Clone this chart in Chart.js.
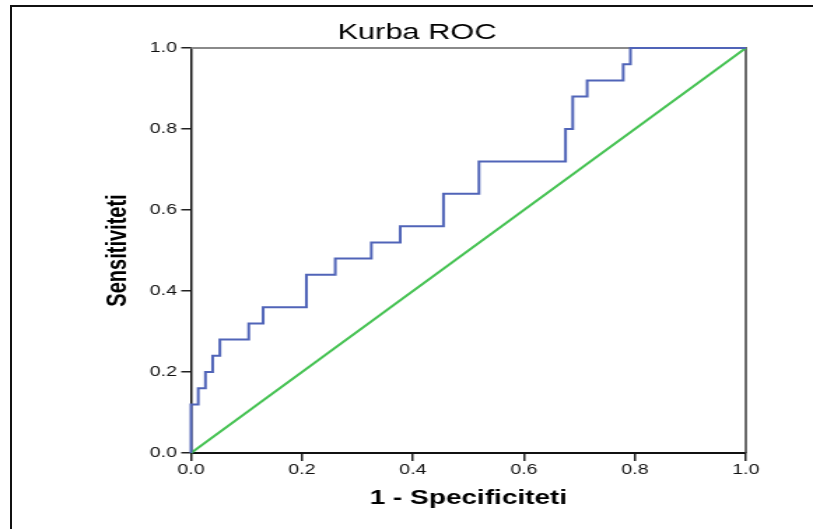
<!DOCTYPE html>
<html>
<head>
<meta charset="utf-8">
<script src="https://cdn.jsdelivr.net/npm/chart.js@4.4.1/dist/chart.umd.min.js"></script>
<style>
  html, body { margin: 0; padding: 0; background: #fff; overflow: hidden; width: 813px; height: 529px; }
  #wrap { position: absolute; left: 0; top: 0; width: 813px; height: 529px; overflow: hidden; }
  #c { position: absolute; left: 0; top: 0; transform-origin: 0 0; transform: scaleX(1.39931); }
  #frame { position: absolute; left: 10px; top: 5px; width: 900px; height: 600px;
           border-left: 2px solid #111; border-top: 2px solid #111; pointer-events: none; }
</style>
</head>
<body>
<div id="wrap">
  <canvas id="c" width="581" height="529" style="width:581px;height:529px"></canvas>
  <div id="frame"></div>
</div>
<script>
// ROC curve corner points (1 - specificity, sensitivity)
const fpr = [0, 0, 0.013, 0.026, 0.039, 0.052, 0.104, 0.130, 0.208, 0.260, 0.325, 0.377, 0.455, 0.519, 0.675, 0.688, 0.714, 0.779, 0.792, 1];
const tpr = [0, 0.12, 0.16, 0.20, 0.24, 0.28, 0.32, 0.36, 0.44, 0.48, 0.52, 0.56, 0.64, 0.72, 0.80, 0.88, 0.92, 0.96, 1.00, 1.00];
// Reference diagonal
const refX = [0, 1];
const refY = [0, 1];
const tickValues = [0, 0.2, 0.4, 0.6, 0.8, 1.0];
const chartTitle = 'Kurba ROC';
const xTitle = '1 - Specificiteti';
const yTitle = 'Sensitiviteti';

const rocData = fpr.map((x, i) => ({ x: x, y: tpr[i] }));
const refData = refX.map((x, i) => ({ x: x, y: refY[i] }));

const FONT = "'Liberation Sans', Arial, sans-serif";

const framePlugin = {
  id: 'frame',
  beforeDatasetsDraw(chart) {
    const { ctx, chartArea: a } = chart;
    ctx.save();
    ctx.strokeStyle = '#8a8a8a';
    ctx.lineWidth = 2;
    ctx.beginPath();
    ctx.moveTo(a.left, a.top);
    ctx.lineTo(a.right, a.top);
    ctx.stroke();
    ctx.strokeStyle = '#3a3a3a';
    ctx.lineWidth = 1.5;
    ctx.beginPath();
    ctx.moveTo(a.right, a.top - 1);
    ctx.lineTo(a.right, a.bottom);
    ctx.stroke();
    ctx.restore();
  },
  afterDraw(chart) {
    const { ctx } = chart;
    ctx.save();
    ctx.fillStyle = '#000';
    ctx.font = "22px " + FONT;
    ctx.textAlign = 'center';
    ctx.textBaseline = 'middle';
    ctx.fillText(chartTitle, 298, 33);
    ctx.restore();
  }
};

new Chart(document.getElementById('c'), {
  type: 'line',
  data: {
    datasets: [
      {
        data: refData,
        borderColor: '#45c252',
        borderWidth: 2,
        pointRadius: 0,
        fill: false,
        clip: false,
        order: 2
      },
      {
        data: rocData,
        borderColor: '#5064b8',
        borderWidth: 2,
        pointRadius: 0,
        stepped: true,
        fill: false,
        clip: false,
        order: 1
      }
    ]
  },
  options: {
    responsive: false,
    animation: false,
    devicePixelRatio: 1,
    layout: { padding: { top: 48, left: 0, right: 48, bottom: 0 } },
    plugins: { legend: { display: false }, tooltip: { enabled: false }, title: { display: false } },
    scales: {
      x: {
        type: 'linear',
        min: 0, max: 1,
        afterBuildTicks: (s) => { s.ticks = tickValues.map(v => ({ value: v })); },
        afterFit: (s) => { s.height = 76; },
        ticks: {
          font: { family: FONT, size: 14 },
          color: '#111',
          padding: 1,
          maxRotation: 0,
          callback: (v) => v.toFixed(1)
        },
        grid: { drawOnChartArea: false, drawTicks: true, tickLength: 8, color: '#222', lineWidth: 1.5 },
        border: { display: true, color: '#111', width: 2 },
        title: {
          display: true, text: xTitle, color: '#000',
          font: { family: FONT, size: 20, weight: 'bold' },
          padding: { top: 0, bottom: 19 }
        }
      },
      y: {
        type: 'linear',
        min: 0, max: 1,
        afterBuildTicks: (s) => { s.ticks = tickValues.map(v => ({ value: v })); },
        afterFit: (s) => { s.width = 136.5; },
        ticks: {
          font: { family: FONT, size: 14 },
          color: '#111',
          padding: 3,
          callback: (v) => v.toFixed(1)
        },
        grid: { drawOnChartArea: false, drawTicks: true, tickLength: 7, color: '#222', lineWidth: 1.5 },
        border: { display: true, color: '#111', width: 1.5 },
        title: {
          display: true, text: yTitle, color: '#000',
          font: { family: FONT, size: 20, weight: 'bold' },
          padding: { top: 72, bottom: 0 }
        }
      }
    }
  },
  plugins: [framePlugin]
});
</script>
</body>
</html>
